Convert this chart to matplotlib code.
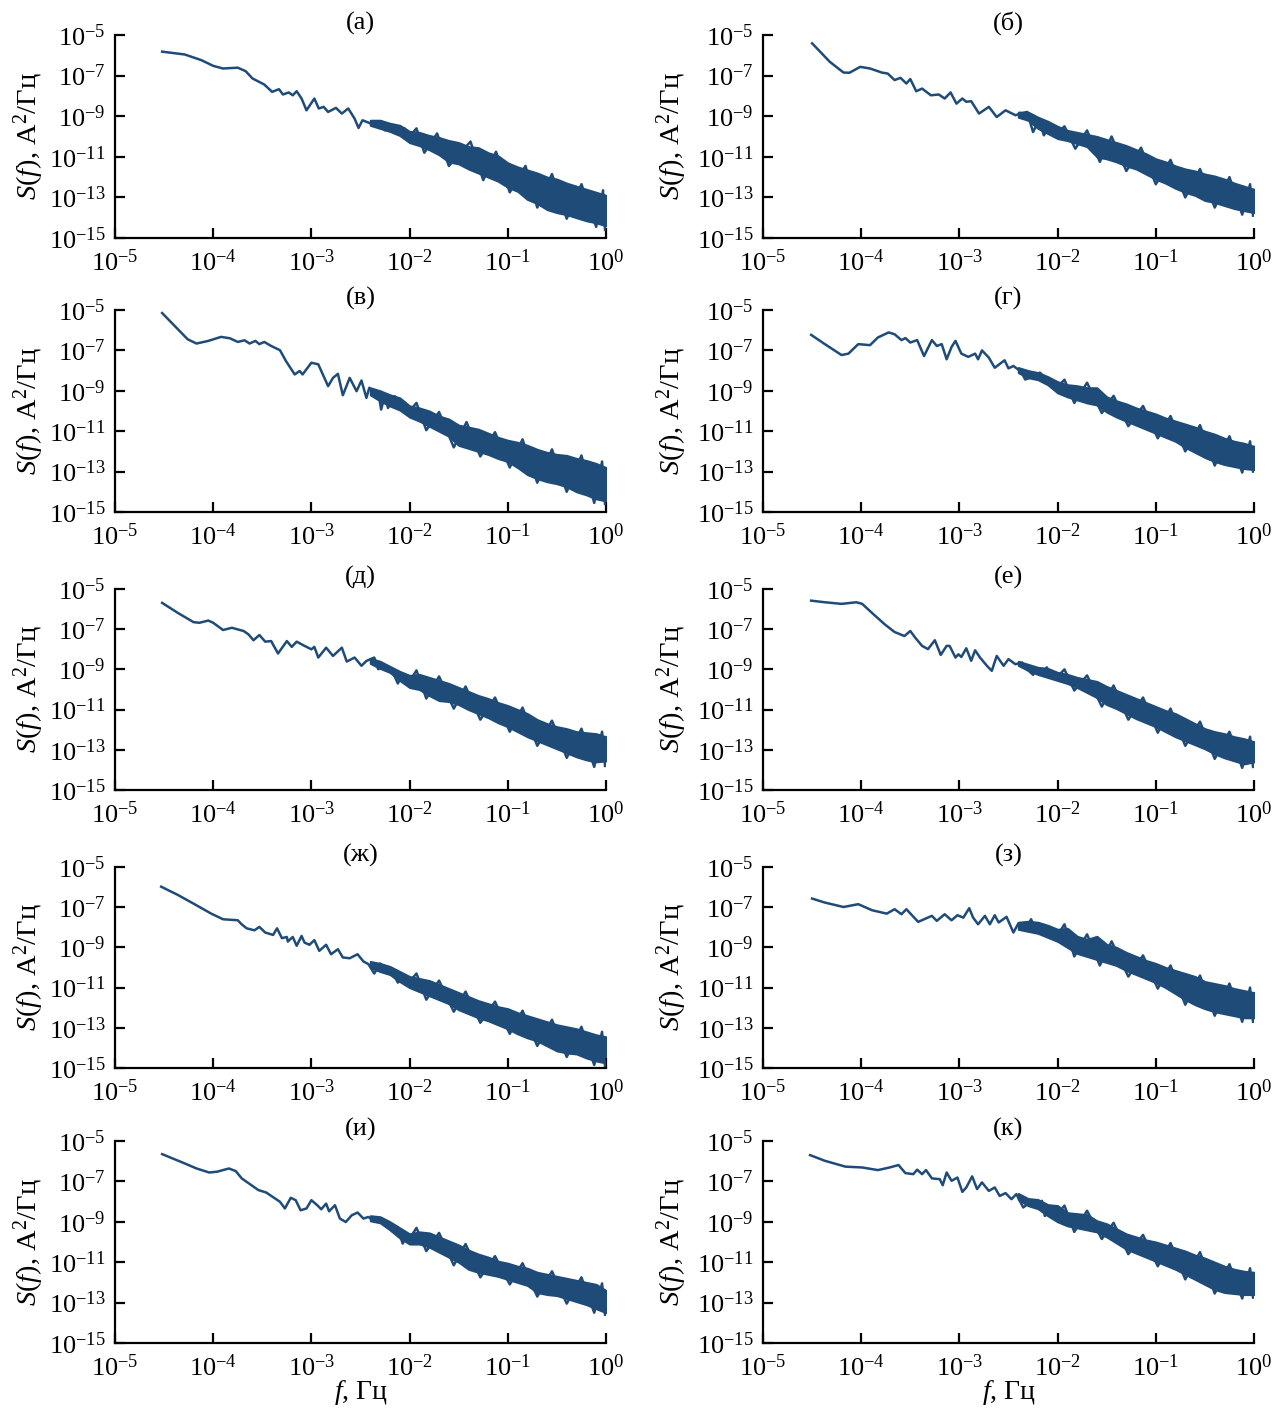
import numpy as np
import matplotlib.pyplot as plt
from matplotlib.ticker import NullLocator

plt.rcParams["font.family"] = ["Liberation Serif", "DejaVu Serif"]
plt.rcParams["mathtext.fontset"] = "custom"
plt.rcParams["mathtext.rm"] = "Liberation Serif"
plt.rcParams["mathtext.it"] = "Liberation Serif:italic"
plt.rcParams["mathtext.bf"] = "Liberation Serif:bold"

# (log10 f, log10 S): smooth/wiggly part, then the spikes of the noisy part
trace_a = [(-4.52, -5.82), (-4.29, -5.96), (-4.12, -6.24), (-4.0, -6.52), (-3.9, -6.65), (-3.75, -6.61),
           (-3.67, -6.78), (-3.6, -7.14), (-3.48, -7.44), (-3.4, -7.8), (-3.33, -7.67), (-3.29, -7.93),
           (-3.23, -7.83), (-3.19, -7.97), (-3.15, -7.77), (-3.1, -8.13), (-3.05, -8.71), (-2.97, -8.13),
           (-2.925, -8.62), (-2.875, -8.54), (-2.83, -8.79), (-2.75, -8.59), (-2.69, -8.87), (-2.625, -8.62),
           (-2.56, -9.12), (-2.52, -9.58), (-2.48, -9.2), (-2.4, -9.35), (-2.33, -9.28), (-2.25, -9.7),
           (-2.17, -9.45), (-2.1, -9.85), (-2.05, -9.6), (-2.0, -10.0),
           (-1.93, -9.6), (-1.85, -10.8), (-1.72, -9.85), (-1.6, -11.45), (-1.38, -10.25), (-1.25, -12.15),
           (-1.12, -10.75), (-0.98, -12.75), (-0.82, -11.45), (-0.7, -13.5), (-0.55, -11.85), (-0.4, -14.05),
           (-0.25, -12.35), (-0.1, -14.45), (-0.03, -12.65), (-0.01, -14.6)]
trace_b = [(-4.5, -5.41), (-4.32, -6.32), (-4.18, -6.85), (-4.12, -6.86), (-4.01, -6.57), (-3.91, -6.65),
           (-3.79, -6.85), (-3.73, -6.9), (-3.66, -7.22), (-3.6, -7.11), (-3.54, -7.39), (-3.5, -7.17),
           (-3.44, -7.77), (-3.38, -7.64), (-3.29, -7.97), (-3.21, -7.93), (-3.15, -8.13), (-3.09, -7.83),
           (-3.03, -8.38), (-2.97, -8.13), (-2.93, -8.29), (-2.88, -8.26), (-2.8, -8.87), (-2.7, -8.54),
           (-2.62, -9.04), (-2.53, -8.71), (-2.43, -8.95), (-2.31, -8.79), (-2.25, -9.78), (-2.19, -9.2),
           (-2.14, -9.94), (-2.08, -9.5), (-2.0, -9.8),
           (-1.93, -9.5), (-1.82, -10.6), (-1.7, -9.7), (-1.57, -11.25), (-1.45, -10.0), (-1.3, -11.7),
           (-1.15, -10.55), (-1.0, -12.35), (-0.85, -11.15), (-0.7, -13.0), (-0.55, -11.6), (-0.4, -13.5),
           (-0.25, -12.0), (-0.12, -13.85), (-0.04, -12.35), (-0.01, -13.9)]
trace_v = [(-4.52, -5.15), (-4.36, -5.95), (-4.26, -6.45), (-4.17, -6.66), (-4.05, -6.53), (-3.92, -6.33),
           (-3.83, -6.4), (-3.75, -6.58), (-3.68, -6.5), (-3.63, -6.66), (-3.57, -6.53), (-3.53, -6.69),
           (-3.48, -6.58), (-3.41, -6.78), (-3.32, -6.99), (-3.26, -7.52), (-3.17, -8.19), (-3.12, -8.02),
           (-3.09, -8.19), (-3.0, -7.61), (-2.93, -7.69), (-2.83, -8.77), (-2.78, -8.36), (-2.73, -8.16),
           (-2.68, -9.22), (-2.61, -8.36), (-2.54, -9.02), (-2.49, -8.49), (-2.44, -9.35), (-2.41, -8.85),
           (-2.34, -9.27), (-2.32, -9.02), (-2.29, -9.93), (-2.25, -9.19), (-2.22, -9.85), (-2.15, -9.27),
           (-2.08, -9.9), (-2.0, -10.0),
           (-1.93, -9.6), (-1.83, -10.95), (-1.7, -10.05), (-1.55, -11.8), (-1.42, -10.55), (-1.28, -12.25),
           (-1.13, -11.05), (-0.98, -12.8), (-0.85, -11.4), (-0.7, -13.55), (-0.55, -11.9), (-0.4, -14.0),
           (-0.25, -12.2), (-0.12, -14.55), (-0.04, -12.5), (-0.01, -14.6)]
trace_g = [(-4.51, -6.23), (-4.37, -6.69), (-4.2, -7.23), (-4.13, -7.16), (-4.03, -6.69), (-3.91, -6.74),
           (-3.83, -6.36), (-3.72, -6.11), (-3.66, -6.2), (-3.59, -6.49), (-3.55, -6.39), (-3.5, -6.61),
           (-3.43, -6.49), (-3.36, -7.28), (-3.28, -6.49), (-3.23, -6.78), (-3.18, -6.69), (-3.13, -7.44),
           (-3.08, -6.83), (-3.04, -6.53), (-2.98, -7.16), (-2.91, -7.32), (-2.84, -7.16), (-2.81, -7.44),
           (-2.77, -7.0), (-2.7, -7.36), (-2.64, -7.86), (-2.54, -7.49), (-2.5, -7.89), (-2.45, -7.77),
           (-2.37, -8.06), (-2.33, -8.44), (-2.26, -8.32), (-2.18, -8.1), (-2.11, -8.44), (-2.06, -8.52),
           (-2.0, -8.8),
           (-1.93, -8.45), (-1.83, -9.6), (-1.7, -8.6), (-1.55, -10.1), (-1.43, -9.25), (-1.28, -10.75),
           (-1.13, -9.75), (-0.98, -11.35), (-0.85, -10.25), (-0.7, -12.0), (-0.55, -10.7), (-0.4, -12.7),
           (-0.25, -11.25), (-0.12, -13.05), (-0.04, -11.5), (-0.01, -13.0)]
trace_d = [(-4.52, -5.69), (-4.36, -6.19), (-4.2, -6.65), (-4.14, -6.68), (-4.05, -6.57), (-4.0, -6.68),
           (-3.9, -7.04), (-3.81, -6.93), (-3.69, -7.09), (-3.64, -7.26), (-3.59, -7.55), (-3.53, -7.29),
           (-3.47, -7.62), (-3.41, -7.59), (-3.34, -8.21), (-3.25, -7.59), (-3.2, -7.88), (-3.15, -7.62),
           (-3.07, -7.83), (-3.0, -8.0), (-2.97, -7.88), (-2.93, -8.41), (-2.85, -7.92), (-2.78, -8.33),
           (-2.69, -7.92), (-2.64, -8.61), (-2.56, -8.41), (-2.49, -8.82), (-2.44, -8.58), (-2.36, -8.41),
           (-2.32, -8.99), (-2.24, -8.82), (-2.17, -9.15), (-2.12, -9.7), (-2.07, -9.23), (-2.0, -9.6),
           (-1.93, -9.05), (-1.83, -10.45), (-1.7, -9.35), (-1.55, -10.95), (-1.43, -9.85), (-1.28, -11.5),
           (-1.13, -10.4), (-0.98, -12.1), (-0.85, -10.9), (-0.7, -12.8), (-0.55, -11.55), (-0.4, -13.4),
           (-0.25, -11.95), (-0.12, -13.85), (-0.04, -12.1), (-0.01, -13.8)]
trace_e = [(-4.51, -5.58), (-4.37, -5.66), (-4.2, -5.74), (-4.05, -5.66), (-3.99, -5.74), (-3.89, -6.19),
           (-3.76, -6.76), (-3.66, -7.14), (-3.56, -7.34), (-3.5, -7.09), (-3.45, -7.42), (-3.38, -7.83),
           (-3.32, -7.99), (-3.25, -7.55), (-3.19, -8.28), (-3.13, -7.83), (-3.1, -7.83), (-3.04, -8.41),
           (-3.01, -8.25), (-2.98, -8.38), (-2.93, -7.95), (-2.88, -8.57), (-2.84, -8.05), (-2.79, -8.41),
           (-2.72, -8.82), (-2.67, -9.07), (-2.62, -8.33), (-2.55, -8.82), (-2.5, -8.49), (-2.43, -8.74),
           (-2.36, -8.66), (-2.33, -8.9), (-2.25, -9.27), (-2.21, -8.99), (-2.16, -9.2), (-2.11, -8.9),
           (-2.06, -9.4), (-2.0, -9.35),
           (-1.93, -9.0), (-1.83, -10.05), (-1.7, -9.3), (-1.55, -10.85), (-1.43, -9.8), (-1.28, -11.5),
           (-1.13, -10.4), (-0.98, -12.15), (-0.85, -10.95), (-0.7, -12.8), (-0.55, -11.6), (-0.4, -13.45),
           (-0.25, -12.1), (-0.12, -13.9), (-0.04, -12.35), (-0.01, -13.85)]
trace_zh = [(-4.53, -5.98), (-4.36, -6.39), (-4.19, -6.85), (-4.02, -7.32), (-3.9, -7.6), (-3.75, -7.65),
            (-3.71, -7.85), (-3.66, -8.05), (-3.58, -8.15), (-3.53, -7.98), (-3.47, -8.26), (-3.39, -8.38),
            (-3.35, -8.05), (-3.3, -8.54), (-3.25, -8.48), (-3.24, -8.71), (-3.19, -8.48), (-3.15, -8.92),
            (-3.1, -8.43), (-3.07, -8.76), (-3.02, -8.87), (-2.97, -8.64), (-2.92, -9.17), (-2.85, -8.87),
            (-2.8, -9.34), (-2.73, -9.09), (-2.68, -9.5), (-2.61, -9.54), (-2.53, -9.34), (-2.47, -9.7),
            (-2.42, -9.83), (-2.36, -10.3), (-2.3, -9.8), (-2.25, -10.13), (-2.19, -10.08), (-2.12, -10.75),
            (-2.07, -10.5), (-2.0, -10.7),
            (-1.93, -10.3), (-1.83, -11.6), (-1.7, -10.65), (-1.55, -12.2), (-1.43, -11.2), (-1.28, -12.75),
            (-1.13, -11.7), (-0.98, -13.3), (-0.85, -12.15), (-0.7, -13.9), (-0.55, -12.6), (-0.4, -14.45),
            (-0.25, -12.95), (-0.12, -14.85), (-0.04, -13.2), (-0.01, -14.9)]
trace_z = [(-4.5, -6.57), (-4.37, -6.77), (-4.18, -6.99), (-4.03, -6.85), (-3.89, -7.15), (-3.74, -7.32),
           (-3.66, -7.1), (-3.59, -7.35), (-3.54, -7.1), (-3.42, -7.73), (-3.28, -7.43), (-3.23, -7.68),
           (-3.15, -7.35), (-3.08, -7.65), (-3.02, -7.4), (-2.96, -7.52), (-2.9, -7.05), (-2.86, -7.52),
           (-2.81, -7.85), (-2.74, -7.43), (-2.69, -7.85), (-2.64, -7.4), (-2.6, -7.76), (-2.52, -7.48),
           (-2.45, -8.26), (-2.4, -7.81), (-2.33, -8.15), (-2.27, -7.6), (-2.21, -8.21), (-2.16, -7.93),
           (-2.08, -8.34), (-2.0, -8.4),
           (-1.93, -7.85), (-1.83, -9.45), (-1.7, -8.35), (-1.57, -9.9), (-1.45, -8.7), (-1.28, -10.45),
           (-1.13, -9.4), (-0.98, -11.05), (-0.85, -9.9), (-0.7, -11.85), (-0.55, -10.4), (-0.4, -12.4),
           (-0.25, -10.8), (-0.12, -12.7), (-0.04, -11.0), (-0.01, -12.7)]
trace_i = [(-4.52, -5.65), (-4.29, -6.11), (-4.17, -6.36), (-4.04, -6.56), (-3.96, -6.52), (-3.84, -6.36),
           (-3.77, -6.49), (-3.71, -6.85), (-3.54, -7.43), (-3.46, -7.55), (-3.32, -8.01), (-3.27, -8.34),
           (-3.21, -7.81), (-3.16, -7.93), (-3.11, -8.43), (-3.05, -8.34), (-3.0, -7.93), (-2.94, -8.18),
           (-2.9, -8.38), (-2.85, -8.1), (-2.82, -8.48), (-2.76, -8.18), (-2.71, -8.84), (-2.65, -9.01),
           (-2.59, -8.68), (-2.53, -8.54), (-2.47, -8.84), (-2.42, -8.76), (-2.36, -8.97), (-2.3, -8.84),
           (-2.23, -9.17), (-2.17, -9.34), (-2.11, -9.5), (-2.07, -10.08), (-2.03, -9.67), (-2.0, -9.85),
           (-1.93, -9.3), (-1.83, -10.45), (-1.7, -9.55), (-1.55, -11.15), (-1.43, -10.1), (-1.28, -11.75),
           (-1.13, -10.7), (-0.98, -12.1), (-0.85, -11.05), (-0.7, -12.7), (-0.55, -11.45), (-0.4, -13.05),
           (-0.25, -11.75), (-0.12, -13.5), (-0.04, -12.05), (-0.01, -13.6)]
trace_k = [(-4.52, -5.7), (-4.37, -5.98), (-4.16, -6.27), (-3.99, -6.31), (-3.83, -6.44), (-3.71, -6.31),
           (-3.62, -6.19), (-3.55, -6.59), (-3.47, -6.64), (-3.43, -6.42), (-3.38, -6.64), (-3.34, -6.44),
           (-3.28, -6.85), (-3.2, -6.89), (-3.17, -7.19), (-3.13, -6.56), (-3.08, -6.97), (-3.02, -6.81),
           (-2.97, -7.52), (-2.93, -7.3), (-2.87, -6.75), (-2.82, -7.38), (-2.77, -7.05), (-2.7, -7.47),
           (-2.64, -7.3), (-2.59, -7.72), (-2.53, -7.58), (-2.47, -7.88), (-2.42, -7.63), (-2.35, -8.29),
           (-2.26, -7.96), (-2.19, -8.25), (-2.16, -7.96), (-2.13, -8.71), (-2.06, -8.38), (-2.0, -8.6),
           (-1.93, -8.2), (-1.83, -9.5), (-1.7, -8.45), (-1.55, -9.85), (-1.43, -9.05), (-1.28, -10.6),
           (-1.13, -9.65), (-0.98, -11.2), (-0.85, -10.05), (-0.7, -11.85), (-0.55, -10.5), (-0.4, -12.55),
           (-0.25, -11.1), (-0.12, -12.8), (-0.04, -11.3), (-0.01, -12.75)]

# noisy high-frequency part: upper / lower edge of the band (log10 S) at these log10 f
band_f = [-2.4, -2.3, -2.2, -2.1, -2.0, -1.9, -1.8, -1.7, -1.6, -1.5, -1.4, -1.3, -1.2, -1.1, -1.0,
          -0.9, -0.8, -0.7, -0.6, -0.5, -0.4, -0.3, -0.2, -0.1, 0.0]
hi_a = [-9.2, -9.2, -9.35, -9.45, -9.75, -9.8, -9.95, -10.05, -10.2, -10.3, -10.5, -10.55, -10.8, -10.95, -11.3,
        -11.5, -11.65, -11.8, -12.0, -12.1, -12.3, -12.45, -12.6, -12.75, -12.9]
lo_a = [-9.45, -9.6, -9.75, -9.95, -10.3, -10.45, -10.65, -10.9, -11.25, -11.35, -11.6, -11.8, -12.0, -12.2, -12.5,
        -12.7, -13.1, -13.3, -13.6, -13.75, -13.85, -14.0, -14.15, -14.25, -14.4]
hi_b = [-8.8, -8.8, -9.05, -9.25, -9.5, -9.7, -9.8, -9.9, -10.0, -10.15, -10.3, -10.45, -10.65, -10.85, -11.1,
        -11.25, -11.45, -11.6, -11.7, -11.85, -11.95, -12.1, -12.3, -12.45, -12.6]
lo_b = [-9.05, -9.2, -9.6, -9.85, -10.1, -10.2, -10.35, -10.5, -11.0, -11.1, -11.25, -11.45, -11.6, -11.85, -12.1,
        -12.3, -12.55, -12.75, -12.9, -13.15, -13.25, -13.4, -13.55, -13.65, -13.75]
hi_v = [-8.85, -9.0, -9.2, -9.35, -9.75, -9.85, -10.0, -10.25, -10.4, -10.7, -10.8, -10.9, -11.1, -11.3, -11.45,
        -11.55, -11.7, -11.9, -12.05, -12.15, -12.2, -12.35, -12.45, -12.6, -12.8]
lo_v = [-9.2, -9.5, -9.75, -9.95, -10.3, -10.5, -10.75, -11.0, -11.25, -11.7, -11.85, -12.0, -12.15, -12.35, -12.5,
        -12.8, -13.15, -13.35, -13.5, -13.6, -13.75, -14.0, -14.15, -14.35, -14.45]
hi_g = [-7.85, -8.0, -8.1, -8.3, -8.55, -8.7, -8.75, -8.85, -8.85, -9.3, -9.5, -9.65, -9.85, -10.0, -10.15,
        -10.35, -10.5, -10.65, -10.8, -11.0, -11.15, -11.35, -11.5, -11.6, -11.75]
lo_g = [-8.1, -8.35, -8.45, -8.7, -9.1, -9.3, -9.45, -9.6, -9.7, -10.05, -10.3, -10.5, -10.7, -10.9, -11.1,
        -11.3, -11.5, -11.8, -12.05, -12.3, -12.5, -12.65, -12.75, -12.85, -12.9]
hi_d = [-8.45, -8.6, -8.85, -9.1, -9.3, -9.25, -9.4, -9.55, -9.7, -9.9, -10.1, -10.3, -10.45, -10.65, -10.8,
        -11.0, -11.2, -11.5, -11.7, -11.85, -11.95, -12.1, -12.15, -12.2, -12.35]
lo_d = [-8.7, -8.95, -9.15, -9.55, -9.9, -10.0, -10.3, -10.55, -10.6, -10.75, -11.0, -11.2, -11.4, -11.65, -11.85,
        -12.1, -12.35, -12.55, -12.75, -12.95, -13.15, -13.35, -13.5, -13.6, -13.55]
hi_e = [-8.6, -8.75, -8.9, -8.95, -9.15, -9.25, -9.4, -9.5, -9.6, -9.85, -10.05, -10.25, -10.45, -10.65, -10.85,
        -11.05, -11.2, -11.45, -11.7, -11.95, -12.1, -12.2, -12.35, -12.45, -12.6]
lo_e = [-8.8, -9.05, -9.25, -9.4, -9.55, -9.7, -9.9, -10.15, -10.4, -10.75, -10.95, -11.2, -11.45, -11.65, -11.85,
        -12.1, -12.35, -12.55, -12.75, -12.95, -13.2, -13.4, -13.55, -13.7, -13.6]
hi_zh = [-9.7, -9.8, -9.95, -10.2, -10.45, -10.55, -10.65, -10.85, -11.05, -11.25, -11.45, -11.65, -11.8, -11.95, -12.05,
         -12.25, -12.4, -12.55, -12.7, -12.85, -12.95, -13.05, -13.2, -13.35, -13.45]
lo_zh = [-10.0, -10.2, -10.35, -10.7, -11.0, -11.2, -11.4, -11.6, -11.8, -12.1, -12.3, -12.5, -12.65, -12.85, -13.05,
         -13.3, -13.5, -13.65, -13.9, -14.15, -14.25, -14.3, -14.5, -14.65, -14.75]
hi_z = [-7.75, -7.7, -7.75, -7.9, -8.1, -8.05, -8.45, -8.6, -8.45, -8.85, -9.0, -9.25, -9.45, -9.65, -9.8,
        -10.0, -10.15, -10.3, -10.45, -10.7, -10.8, -10.9, -11.05, -11.15, -11.25]
lo_z = [-8.1, -8.2, -8.3, -8.5, -8.7, -9.0, -9.3, -9.45, -9.6, -9.75, -9.9, -10.15, -10.35, -10.55, -10.75,
        -11.0, -11.3, -11.6, -11.85, -12.05, -12.2, -12.3, -12.4, -12.5, -12.5]
hi_i = [-8.7, -8.75, -9.0, -9.3, -9.6, -9.5, -9.55, -9.75, -9.95, -10.15, -10.4, -10.6, -10.75, -10.95, -11.05,
        -11.2, -11.3, -11.5, -11.6, -11.7, -11.8, -11.9, -12.0, -12.1, -12.4]
lo_i = [-8.95, -9.05, -9.4, -9.8, -10.1, -10.1, -10.25, -10.5, -10.75, -11.0, -11.35, -11.5, -11.6, -11.7, -11.85,
        -12.0, -12.15, -12.5, -12.6, -12.65, -12.8, -12.95, -13.1, -13.3, -13.5]
hi_k = [-7.6, -7.85, -7.9, -8.15, -8.2, -8.55, -8.6, -8.65, -8.95, -9.1, -9.35, -9.6, -9.75, -9.9, -10.0,
        -10.15, -10.3, -10.45, -10.65, -10.8, -11.0, -11.2, -11.35, -11.45, -11.5]
lo_k = [-7.9, -8.2, -8.35, -8.7, -9.0, -9.2, -9.3, -9.4, -9.5, -9.75, -10.05, -10.35, -10.55, -10.75, -10.95,
        -11.15, -11.35, -11.6, -11.85, -12.1, -12.35, -12.5, -12.55, -12.6, -12.6]

titles = ["(а)", "(б)", "(в)", "(г)", "(д)", "(е)", "(ж)", "(з)", "(и)", "(к)"]
traces = [trace_a, trace_b, trace_v, trace_g, trace_d, trace_e, trace_zh, trace_z, trace_i, trace_k]
his = [hi_a, hi_b, hi_v, hi_g, hi_d, hi_e, hi_zh, hi_z, hi_i, hi_k]
los = [lo_a, lo_b, lo_v, lo_g, lo_d, lo_e, lo_zh, lo_z, lo_i, lo_k]

color = "#1f4b79"
W, H = 1273, 1408
col_left = [115, 763]
col_width = 491
row_px = [(35, 238), (310, 512), (589, 790), (867, 1068), (1141, 1343)]
fs = 19

fig = plt.figure(figsize=(W / 100, H / 100), dpi=100)

for n in range(10):
    r, c = divmod(n, 2)
    top, bot = row_px[r]
    ax = fig.add_axes([col_left[c] / W, 1 - bot / H, col_width / W, (bot - top) / H])

    bf = 10 ** np.array(band_f)
    ax.fill_between(bf, 10 ** np.array(los[n]), 10 ** np.array(his[n]),
                    facecolor=color, edgecolor=color, lw=1.5)
    tr = np.array(traces[n])
    ax.plot(10 ** tr[:, 0], 10 ** tr[:, 1], color=color, lw=1.8, solid_joinstyle="round")

    ax.set_xscale("log")
    ax.set_yscale("log")
    ax.set_xlim(1e-5, 1)
    ax.set_ylim(1e-15, 1e-5)
    ax.set_xticks([10.0 ** k for k in range(-5, 1)])
    ax.set_yticks([10.0 ** k for k in range(-15, -4, 2)])
    ax.xaxis.set_minor_locator(NullLocator())
    ax.yaxis.set_minor_locator(NullLocator())
    for s in ("top", "right"):
        ax.spines[s].set_visible(False)
    for s in ("left", "bottom"):
        ax.spines[s].set_linewidth(1.6)
    ax.tick_params(direction="in", length=7, width=1.6, labelsize=fs)
    ax.tick_params(axis="x", pad=8)
    ax.tick_params(axis="y", pad=7)

    ax.set_title(titles[n], fontsize=fs, pad=2)
    ax.set_ylabel("$S(f)$, A$^2$/Гц", fontsize=fs + 1.5)
    ax.yaxis.set_label_coords(-0.14 if c == 0 else -0.15, 0.5)
    if r == 4:
        ax.set_xlabel("$f$, Гц", fontsize=fs + 1, labelpad=-2)

fig.savefig("out.png", dpi=100)
